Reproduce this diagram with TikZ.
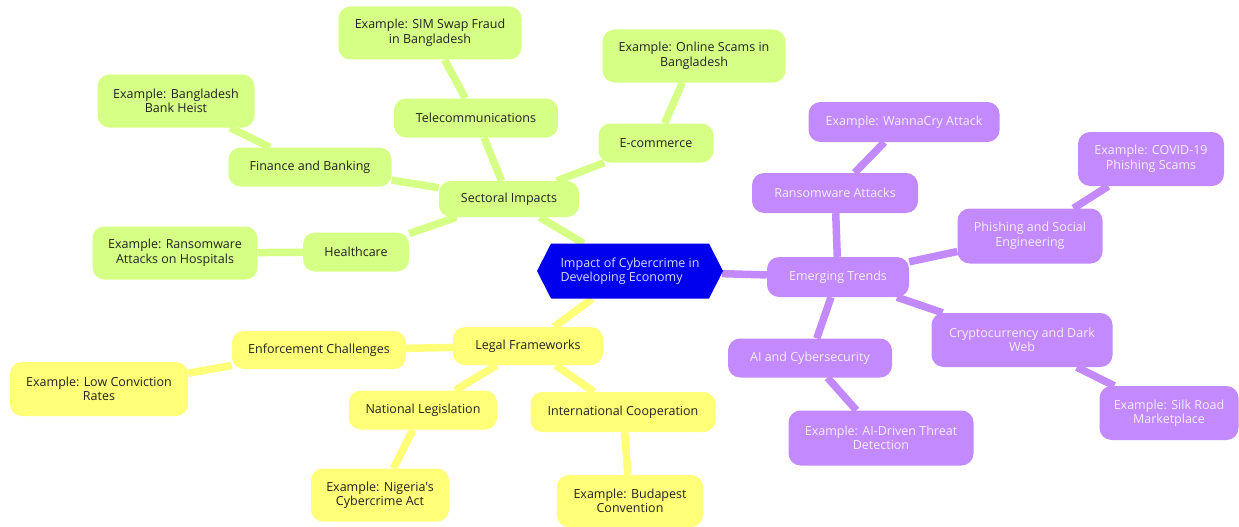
\documentclass[tikz,border=0pt]{standalone}
\usepackage{fontspec}
\setmainfont{Open Sans}[Ligatures=TeXOff]
\usetikzlibrary{shapes.symbols}
\definecolor{secgreen}{HTML}{D6FF86}
\definecolor{legyellow}{HTML}{FFFF78}
\definecolor{trendpurple}{HTML}{C38AFF}
\definecolor{rootblue}{HTML}{0000EE}
\definecolor{darktext}{HTML}{222222}
\definecolor{lighttext}{HTML}{F2EEFF}
\definecolor{roottext}{HTML}{D8D8FF}
\pgfdeclarelayer{links}
\pgfsetlayers{links,main}
\begin{document}
\begin{tikzpicture}[x=1pt,y=1pt,
  font=\fontsize{12.5}{14.5}\selectfont,
  mbox/.style={rounded corners=12pt, inner sep=2pt, align=center},
  gbox/.style={mbox, fill=secgreen, text=darktext},
  ybox/.style={mbox, fill=legyellow, text=darktext},
  pbox/.style={mbox, fill=trendpurple, text=lighttext},
  glink/.style={draw=secgreen, line width=7.5pt},
  ylink/.style={draw=legyellow, line width=7.5pt},
  plink/.style={draw=trendpurple, line width=7.5pt},
  sz/.style 2 args={minimum width=#1pt, minimum height=#2pt}
]
\useasboundingbox (0,0) rectangle (1239,-527);

% central topic
\node[signal, signal to=west and east, signal pointer angle=126,
      fill=rootblue, text=roottext, align=left, inner sep=2pt,
      sz={186}{55}] (root) at (630,-271)
      {Impact of Cybercrime in\\Developing Economy};

% sectoral impacts branch
\node[gbox, sz={140}{36}] (sect) at (509,-199) {Sectoral Impacts};
\node[gbox, sz={164}{39}] (tele) at (476,-118) {Telecommunications};
\node[gbox, sz={183}{53}] (simex) at (430,-33) {Example: SIM Swap Fraud\\in Bangladesh};
\node[gbox, sz={115}{39}] (ecom) at (656,-143) {E-commerce};
\node[gbox, sz={183}{53}] (scamex) at (694,-56) {Example: Online Scams in\\Bangladesh};
\node[gbox, sz={163}{39}] (fin) at (310,-167) {Finance and Banking};
\node[gbox, sz={157}{53}] (heistex) at (176,-101) {Example: Bangladesh\\Bank Heist};
\node[gbox, sz={106}{39}] (health) at (356,-252) {Healthcare};
\node[gbox, sz={165}{53}] (hospex) at (175,-253) {Example: Ransomware\\Attacks on Hospitals};

% legal frameworks branch
\node[ybox, sz={150}{38}] (legal) at (528,-346) {Legal Frameworks};
\node[ybox, sz={174}{38}] (enf) at (319,-350) {Enforcement Challenges};
\node[ybox, sz={178}{54}] (convex) at (99,-389) {Example: Low Conviction\\Rates};
\node[ybox, sz={148}{39}] (natl) at (423,-410) {National Legislation};
\node[ybox, sz={138}{53}] (nigex) at (380,-495) {Example: Nigeria's\\Cybercrime Act};
\node[ybox, sz={185}{40}] (intl) at (623,-412) {International Cooperation};
\node[ybox, sz={146}{52}] (budex) at (630,-501) {Example: Budapest\\Convention};

% emerging trends branch
\node[pbox, sz={142}{40}] (trend) at (838,-277) {Emerging Trends};
\node[pbox, sz={166}{40}] (ransom) at (835,-193) {Ransomware Attacks};
\node[pbox, sz={191}{40}] (wcex) at (904,-122) {Example: WannaCry Attack};
\node[pbox, sz={145}{55}] (phish) at (1030,-236) {Phishing and Social\\Engineering};
\node[pbox, sz={146}{54}] (covex) at (1151,-159) {Example: COVID-19\\Phishing Scams};
\node[pbox, sz={181}{54}] (crypto) at (1022,-340) {Cryptocurrency and Dark\\Web};
\node[pbox, sz={139}{54}] (silkex) at (1169,-413) {Example: Silk Road\\Marketplace};
\node[pbox, sz={164}{39}] (aisec) at (810,-358) {AI and Cybersecurity};
\node[pbox, sz={185}{55}] (aiex) at (881,-438) {Example: AI-Driven Threat\\Detection};

% connectors, kept behind the boxes
\begin{pgfonlayer}{links}
  \draw[glink] (root) -- (sect);
  \draw[glink] (sect) -- (tele);
  \draw[glink] (tele) -- (simex);
  \draw[glink] (sect) -- (ecom);
  \draw[glink] (ecom) -- (scamex);
  \draw[glink] (sect) -- (fin);
  \draw[glink] (fin) -- (heistex);
  \draw[glink] (sect) -- (health);
  \draw[glink] (health) -- (hospex);
  \draw[ylink] (root) -- (legal);
  \draw[ylink] (legal) -- (enf);
  \draw[ylink] (enf) -- (convex);
  \draw[ylink] (legal) -- (natl);
  \draw[ylink] (natl) -- (nigex);
  \draw[ylink] (legal) -- (intl);
  \draw[ylink] (intl) -- (budex);
  \draw[plink] (root) -- (trend);
  \draw[plink] (trend) -- (ransom);
  \draw[plink] (ransom) -- (wcex);
  \draw[plink] (trend) -- (phish);
  \draw[plink] (phish) -- (covex);
  \draw[plink] (trend) -- (crypto);
  \draw[plink] (crypto) -- (silkex);
  \draw[plink] (trend) -- (aisec);
  \draw[plink] (aisec) -- (aiex);
\end{pgfonlayer}
\end{tikzpicture}
\end{document}
